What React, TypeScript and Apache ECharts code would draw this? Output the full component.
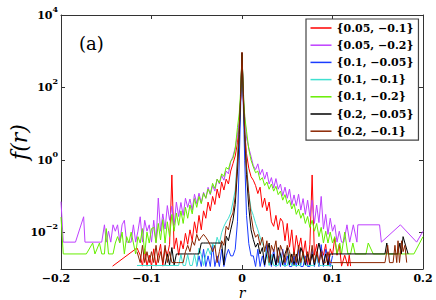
import React, { useEffect, useRef } from 'react';
import * as echarts from 'echarts';

const seriesNames = ['{0.05, −0.1}', '{0.05, −0.2}', '{0.1, −0.05}', '{0.1, −0.1}', '{0.1, −0.2}', '{0.2, −0.05}', '{0.2, −0.1}'];
const seriesColors = ['#ff0000', '#bf40ff', '#1a3cff', '#3fe0d0', '#66ee00', '#000000', '#8b2500'];

const xTicks = [-0.2, -0.1, 0, 0.1, 0.2];
const yTickValues = [0.01, 1, 100, 10000];

// shared bin centres of the dense central part
const rCore = [-0.0975, -0.095, -0.0925, -0.09, -0.0875, -0.085, -0.0825, -0.08, -0.0775, -0.075, -0.0725, -0.07, -0.0675, -0.065, -0.0625, -0.06, -0.0575, -0.055, -0.0525, -0.05, -0.0475, -0.045, -0.0425, -0.04, -0.0375, -0.035, -0.0325, -0.03, -0.0275, -0.025, -0.0225, -0.02, -0.0175, -0.015, -0.0125, -0.01, -0.0075,
  -0.005, -0.003, -0.0015, 0, 0.0015, 0.003, 0.005,
  0.0075, 0.01, 0.0125, 0.015, 0.0175, 0.02, 0.0225, 0.025, 0.0275, 0.03, 0.0325, 0.035, 0.0375, 0.04, 0.0425, 0.045, 0.0475, 0.05, 0.0525, 0.055, 0.0575, 0.06, 0.0625, 0.065, 0.0675, 0.07, 0.0725, 0.075, 0.0775, 0.08, 0.0825, 0.085, 0.0875, 0.09, 0.0925, 0.095, 0.0975];

// {0.05, -0.1} red
const redLeftR = [-0.143, -0.116, -0.1125, -0.11, -0.1075, -0.105, -0.1025, -0.1];
const redLeftF = [0.0012, 0.0038, 0.0024, 0.0012, 0.0036, 0.0012, 0.0024, 0.0012];
const redCore = [0.0036, 0.0012, 0.0024, 0.0048, 0.0012, 0.0036, 0.0024, 0.0048, 0.39, 0.0036, 0.0072, 0.0024, 0.006, 0.0036, 0.0096, 0.0048, 0.012, 0.006, 0.02, 0.0096, 0.03, 0.012, 0.04, 0.025, 0.07, 0.04, 0.1, 0.06, 0.16, 0.09, 0.25, 0.15, 0.3, 0.22, 0.5, 0.8, 1.3,
  3, 10, 50, 850, 40, 6, 1.5,
  0.6, 0.35, 0.28, 0.2, 0.12, 0.18, 0.05, 0.09, 0.04, 0.07, 0.02, 0.015, 0.03, 0.012, 0.025, 0.02, 0.006, 0.018, 0.004, 0.012, 0.0024, 0.0084, 0.0036, 0.0072, 0.0024, 0.006, 0.0012, 0.0048, 0.39, 0.0024, 0.0048, 0.0012, 0.0036, 0.0024, 0.0048, 0.0012, 0.0036];
const redRightR = [0.1, 0.1025, 0.105, 0.1075, 0.11, 0.1135, 0.117, 0.1185, 0.12];
const redRightF = [0.0024, 0.0072, 0.0024, 0.0048, 0.0012, 0.0024, 0.0012, 0.0024, 0.0012];

// {0.05, -0.2} purple
const purpleLeftR = [-0.2, -0.1975, -0.184, -0.175, -0.1735, -0.155, -0.152, -0.15, -0.1475, -0.145, -0.1425, -0.14, -0.1375, -0.135, -0.1325, -0.13, -0.1275, -0.125, -0.1225, -0.12, -0.1175, -0.115, -0.1125, -0.11, -0.1075, -0.105, -0.1025, -0.1];
const purpleLeftF = [0.072, 0.0055, 0.0055, 0.0275, 0.0055, 0.0055, 0.0165, 0.0055, 0.011, 0.0055, 0.0165, 0.011, 0.0165, 0.0055, 0.0165, 0.022, 0.0055, 0.0055, 0.0055, 0.0165, 0.0055, 0.011, 0.0275, 0.0055, 0.022, 0.011, 0.0165, 0.0055];
const purpleCore = [0.022, 0.0055, 0.09, 0.011, 0.033, 0.0126, 0.056, 0.022, 0.054, 0.016, 0.07, 0.028, 0.068, 0.03, 0.089, 0.05, 0.085, 0.042, 0.115, 0.063, 0.123, 0.066, 0.13, 0.089, 0.178, 0.112, 0.2, 0.14, 0.3, 0.22, 0.38, 0.28, 0.5, 0.42, 0.9, 1.26, 2.2,
  5, 12.6, 50, 830, 63, 16, 4,
  2.2, 1.26, 0.7, 0.55, 0.79, 0.4, 0.56, 0.3, 0.47, 0.22, 0.33, 0.17, 0.31, 0.158, 0.22, 0.105, 0.18, 0.089, 0.16, 0.059, 0.11, 0.056, 0.115, 0.042, 0.087, 0.032, 0.079, 0.028, 0.079, 0.018, 0.058, 0.019, 0.1, 0.0126, 0.032, 0.009, 0.025];
const purpleRightR = [0.1, 0.1025, 0.105, 0.1075, 0.11, 0.1125, 0.116, 0.119, 0.123, 0.127, 0.128, 0.152, 0.154, 0.175, 0.193, 0.2];
const purpleRightF = [0.011, 0.0165, 0.0055, 0.011, 0.0055, 0.0055, 0.0165, 0.0055, 0.0165, 0.0055, 0.0165, 0.0165, 0.0055, 0.0165, 0.0055, 0.011];

// {0.1, -0.05} blue
const blueLeftR: number[] = [];
const blueLeftF: number[] = [];
const blueCore = [null, null, null, null, null, null, null, null, null, null, null, null, null, null, null, null, null, null, null,
  0.00117, 0.0023, 0.00117, 0.0035, 0.00117, 0.0023, 0.00117, 0.0047, 0.00117, 0.0023, 0.00117, 0.0035, 0.00117, 0.0023, 0.0035, 0.0023, 0.0023, 0.0035,
  0.02, 1, 30, 900, 30, 1, 0.03,
  0.005, 0.0023, 0.0023, 0.00117, 0.0035, 0.00117, 0.0023, 0.00117, 0.0047, 0.0023, 0.00117, 0.0035, 0.00117, 0.0023, 0.00117, 0.0035, 0.00117, 0.0023, 0.00117, 0.00117, 0.0023, 0.00117, 0.0035, 0.00117, 0.00117, 0.0023, 0.00117, 0.00117, 0.0035, 0.00117, 0.0023, 0.00117, 0.0047, 0.00117, 0.0035, 0.0023, 0.00117];
const blueRightR = [0.1];
const blueRightF = [0.0023];

// {0.1, -0.1} cyan
const cyanLeftR = [-0.116];
const cyanLeftF = [0.00125];
const cyanCore = [null, null, null, null, null, null, null, null, null, null, null,
  0.00125, 0.0025, 0.00125, 0.00125, 0.0025, 0.00125, 0.00125, 0.0025, 0.00125, 0.00375, 0.0025, 0.00125, 0.0025, 0.00375, 0.0025, 0.005, 0.00375, 0.0075, 0.005, 0.01, 0.015, 0.02, 0.025, 0.035, 0.07, 0.15,
  1.2, 8, 60, 880, 60, 6, 0.8,
  0.12, 0.045, 0.03, 0.018, 0.012, 0.0075, 0.005, 0.00375, 0.0025, 0.00125, 0.0025, 0.00125, 0.00125, 0.00125, 0.0025, 0.00125, 0.00125, 0.00125, 0.0025, 0.00125, 0.00125, 0.00125, 0.00125, 0.00125, 0.0025, 0.00125, 0.00125, 0.00125, 0.00125, 0.00125, 0.0025, 0.00125, 0.00125, 0.00125, 0.00125, 0.00125, 0.00125];
const cyanRightR = [0.1];
const cyanRightF = [0.00125];

// {0.1, -0.2} green
const greenLeftR = [-0.2, -0.1975, -0.172, -0.165, -0.1625, -0.1575, -0.155, -0.152, -0.15, -0.1475, -0.1425, -0.14, -0.1375, -0.135, -0.1325, -0.13, -0.1275, -0.125, -0.1225, -0.12, -0.1175, -0.115, -0.1125, -0.11, -0.1075, -0.105, -0.1025, -0.1];
const greenLeftF = [0.027, 0.0026, 0.0026, 0.0052, 0.0026, 0.0052, 0.0026, 0.0026, 0.013, 0.0026, 0.0026, 0.0052, 0.0078, 0.0052, 0.0104, 0.0026, 0.0078, 0.0052, 0.0104, 0.0052, 0.0026, 0.0078, 0.0052, 0.013, 0.0026, 0.0104, 0.0052, 0.013];
const greenCore = [0.014, 0.0052, 0.018, 0.0063, 0.023, 0.0052, 0.02, 0.0078, 0.032, 0.011, 0.035, 0.016, 0.04, 0.018, 0.05, 0.025, 0.058, 0.033, 0.087, 0.05, 0.1, 0.063, 0.123, 0.089, 0.16, 0.117, 0.23, 0.166, 0.3, 0.234, 0.42, 0.355, 0.63, 0.56, 0.93, 1.12, 2,
  8, 20, 80, 800, 80, 16, 6.3,
  2, 1, 0.65, 0.45, 0.5, 0.28, 0.33, 0.2, 0.25, 0.158, 0.22, 0.14, 0.19, 0.112, 0.14, 0.079, 0.112, 0.063, 0.079, 0.045, 0.063, 0.032, 0.045, 0.025, 0.035, 0.018, 0.028, 0.014, 0.022, 0.011, 0.018, 0.0078, 0.014, 0.0052, 0.011, 0.0052, 0.0104];
const greenRightR = [0.1, 0.1025, 0.105, 0.108, 0.11, 0.1135, 0.117, 0.12, 0.1225, 0.125, 0.137, 0.1395, 0.145, 0.19, 0.2];
const greenRightF = [0.0052, 0.0078, 0.0026, 0.0052, 0.0026, 0.0104, 0.0026, 0.0026, 0.0052, 0.0026, 0.0026, 0.0052, 0.0026, 0.0026, 0.0078];

// {0.2, -0.05} black
const blackLeftR: number[] = [];
const blackLeftF: number[] = [];
const blackCore = [null, null, null, null, null,
  0.0013, 0.0026, 0.0013, 0.0039, 0.0013,
  0.0026, 0.0026, 0.0026, 0.0026, 0.0026, 0.0026, 0.0026, 0.0026, 0.0026, 0.0026, 0.0026,
  0.0052, 0.0052, 0.0052, 0.0052, 0.0052, 0.0052, 0.0052, 0.0052, 0.0052, 0.0052,
  0.0013, 0.008, 0.006, 0.012, 0.022, 0.06,
  0.5, 5, 50, 900, 50, 5, 0.4,
  0.05, 0.012, 0.0065, 0.004, 0.0052, 0.0026, 0.0039, 0.0013, 0.0026, 0.0052, 0.0013, 0.0026, 0.0013, 0.0039, 0.0026, 0.0013, 0.0026, 0.0039, 0.0013, 0.0026, 0.0013, 0.0026, 0.0013, 0.0039, 0.0026, 0.0013, 0.0026, 0.0013, 0.0026, 0.0013, 0.0026, 0.0052, 0.0026, 0.0013, 0.0026, 0.0013, 0.0026];
const blackRightR = [0.1, 0.158, 0.16, 0.1615, 0.172, 0.1745, 0.176, 0.178, 0.18, 0.1835];
const blackRightF = [0.0026, 0.0026, 0.0052, 0.0026, 0.0026, 0.0052, 0.0026, 0.0078, 0.0052, 0.0026];

// {0.2, -0.1} brown
const brownLeftR = [-0.116, -0.1125, -0.11, -0.1075, -0.105, -0.1025, -0.1];
const brownLeftF = [0.003, 0.0015, 0.0045, 0.0015, 0.003, 0.0015, 0.003];
const brownCore = [0.0015, 0.0045, 0.0015, 0.003, 0.0015, 0.0045, 0.0015, 0.003, 0.0015, 0.0015, 0.0015, 0.0015, 0.0015, 0.0015, 0.003, 0.0045, 0.003, 0.006, 0.0045, 0.009, 0.006, 0.0075, 0.009, 0.0075, 0.006, 0.0045, 0.003, 0.0045, 0.0015, 0.003, 0.006, 0.0045, 0.015, 0.012, 0.025, 0.035, 0.1,
  0.9, 8, 60, 950, 60, 6, 0.6,
  0.12, 0.03, 0.012, 0.0075, 0.009, 0.0045, 0.0075, 0.003, 0.006, 0.0015, 0.0045, 0.003, 0.006, 0.0015, 0.0045, 0.003, 0.0015, 0.0045, 0.003, 0.0015, 0.003, 0.0015, 0.0045, 0.0015, 0.003, 0.0015, 0.003, 0.0015, 0.0045, 0.0015, 0.003, 0.0015, 0.003, 0.0015, 0.0015, 0.003, 0.0015];
const brownRightR = [0.1, 0.158, 0.161, 0.163, 0.167, 0.169, 0.171, 0.1724, 0.174, 0.1765, 0.178, 0.18, 0.182];
const brownRightF = [0.0015, 0.0015, 0.0045, 0.0015, 0.0015, 0.0045, 0.0015, 0.006, 0.0015, 0.006, 0.003, 0.0045, 0.0015];

function buildPairs(lr: number[], lf: number[], core: (number | null)[], rr: number[], rf: number[]) {
  const out: [number, number][] = [];
  lr.forEach((r, i) => out.push([r, lf[i]]));
  core.forEach((f, i) => {
    if (f !== null) out.push([rCore[i], f]);
  });
  rr.forEach((r, i) => out.push([r, rf[i]]));
  return out;
}

const seriesData = [
  buildPairs(redLeftR, redLeftF, redCore, redRightR, redRightF),
  buildPairs(purpleLeftR, purpleLeftF, purpleCore, purpleRightR, purpleRightF),
  buildPairs(blueLeftR, blueLeftF, blueCore, blueRightR, blueRightF),
  buildPairs(cyanLeftR, cyanLeftF, cyanCore, cyanRightR, cyanRightF),
  buildPairs(greenLeftR, greenLeftF, greenCore, greenRightR, greenRightF),
  buildPairs(blackLeftR, blackLeftF, blackCore, blackRightR, blackRightF),
  buildPairs(brownLeftR, brownLeftF, brownCore, brownRightR, brownRightF),
];

const FRAME = '#333333';
const SERIF = 'DejaVu Serif';

export default function App() {
  const ref = useRef<HTMLDivElement>(null);
  useEffect(() => {
    document.body.style.margin = '0';
    if (!ref.current) return;
    const chart = echarts.init(ref.current, undefined, { renderer: 'svg' });
    const xLabelFormatter = (v: number) => {
      if (Math.abs(v) < 1e-9) return '0';
      const s = Math.abs(v).toFixed(1);
      return v < 0 ? `{n|−${s}}` : s;
    };
    const yLabelFormatter = (v: number) => {
      const e = Math.round(Math.log10(v));
      return `{b|10}{e|${e < 0 ? '−' + -e : e}}`;
    };
    const frameAxisLine = { show: true, onZero: false, lineStyle: { color: FRAME, width: 1 } };
    const tick = { show: true, inside: true, length: 4, lineStyle: { color: FRAME, width: 1 } };
    chart.setOption({
      animation: false,
      backgroundColor: '#ffffff',
      grid: { left: 61, right: 13, top: 15, bottom: 31, containLabel: false, outerBoundsMode: 'none' },
      xAxis: [
        {
          type: 'value', min: xTicks[0], max: xTicks[xTicks.length - 1], interval: 0.1, position: 'bottom',
          name: 'r', nameLocation: 'middle', nameGap: 18, nameMoveOverlap: false,
          nameTextStyle: { fontFamily: SERIF, fontStyle: 'italic', fontSize: 14, color: '#000', lineHeight: 12 },
          axisLine: frameAxisLine, axisTick: tick,
          axisLabel: {
            margin: 4, formatter: xLabelFormatter, fontFamily: SERIF, fontWeight: 'bold', fontSize: 11, color: '#000', lineHeight: 11,
            rich: { n: { fontFamily: SERIF, fontWeight: 'bold', fontSize: 11, color: '#000', lineHeight: 11, padding: [0, 10, 0, 0] } },
          },
          splitLine: { show: false },
        },
        {
          type: 'value', min: xTicks[0], max: xTicks[xTicks.length - 1], interval: 0.1, position: 'top',
          axisLine: frameAxisLine, axisTick: tick, axisLabel: { show: false }, splitLine: { show: false },
        },
      ],
      yAxis: [
        {
          type: 'log', logBase: 10, min: 0.001, max: 10000, position: 'left',
          name: 'f(r)', nameLocation: 'middle', nameGap: 31, nameMoveOverlap: false,
          nameTextStyle: { fontFamily: SERIF, fontStyle: 'italic', fontSize: 22, color: '#000', lineHeight: 22 },
          axisLine: frameAxisLine,
          axisTick: { ...tick, customValues: yTickValues },
          axisLabel: {
            customValues: yTickValues, margin: 3, formatter: yLabelFormatter, color: '#000',
            rich: {
              b: { fontFamily: SERIF, fontWeight: 'bold', fontSize: 11, color: '#000' },
              e: { fontFamily: SERIF, fontWeight: 'bold', fontSize: 8, color: '#000', padding: [0, 0, 13, 0] },
            },
          },
          splitLine: { show: false }, minorTick: { show: false },
        },
        {
          type: 'log', logBase: 10, min: 0.001, max: 10000, position: 'right',
          axisLine: frameAxisLine,
          axisTick: { ...tick, customValues: yTickValues },
          axisLabel: { show: false }, splitLine: { show: false },
        },
      ],
      legend: {
        orient: 'vertical', left: 306, top: 19,
        padding: [3, 5, 3, 4.5], itemGap: 5.2, itemWidth: 21, itemHeight: 1.5,
        icon: 'rect',
        backgroundColor: '#ffffff', borderColor: '#444444', borderWidth: 1.2,
        textStyle: { fontFamily: SERIF, fontWeight: 'bold', fontSize: 11, color: '#000', lineHeight: 12 },
        data: seriesNames,
      },
      graphic: [
        { type: 'text', left: 79, top: 34, style: { text: '(a)', fontFamily: SERIF, fontSize: 18, fill: '#000' } },
      ],
      series: seriesNames.map((name, i) => ({
        name, type: 'line', xAxisIndex: 0, yAxisIndex: 0,
        data: seriesData[i], symbol: 'none', showSymbol: false,
        lineStyle: { color: seriesColors[i], width: 1 }, itemStyle: { color: seriesColors[i] },
        emphasis: { disabled: true },
      })),
    });
    return () => chart.dispose();
  }, []);
  return <div ref={ref} style={{ width: 436, height: 300 }} />;
}
